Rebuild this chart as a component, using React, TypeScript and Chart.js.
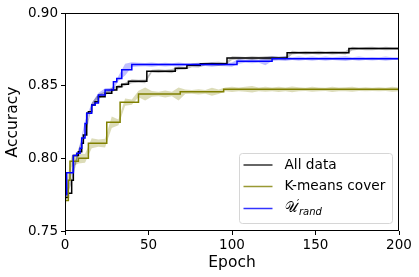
import React, { useEffect, useRef } from "react";
import { Chart, registerables } from "chart.js";

Chart.register(...registerables);

// Step curves: epoch at which a new value starts, and that value
const allEpochs = [0, 2, 4, 5, 8, 10, 11, 13, 14, 16, 18, 20, 24, 28, 31, 34, 38, 49, 66, 73, 81, 97, 133, 170, 200];
const allAcc = [0.773, 0.776, 0.785, 0.802, 0.8046, 0.8103, 0.816, 0.831, 0.832, 0.8367, 0.839, 0.8424, 0.8447, 0.847, 0.8493, 0.851, 0.853, 0.86, 0.862, 0.864, 0.865, 0.869, 0.8727, 0.8755, 0.8755];

const kmEpochs = [0, 2, 3, 8, 14, 25, 33, 44, 69, 95, 200];
const kmAcc = [0.771, 0.785, 0.798, 0.8, 0.8104, 0.8248, 0.8386, 0.8443, 0.8458, 0.8475, 0.8475];

const urEpochs = [0, 1, 5, 7, 9, 10, 12, 13, 16, 18, 20, 24, 29, 31, 34, 40, 103, 124, 200];
const urAcc = [0.775, 0.79, 0.802, 0.8035, 0.807, 0.814, 0.824, 0.831, 0.8367, 0.838, 0.8436, 0.847, 0.8527, 0.855, 0.861, 0.8645, 0.8668, 0.8686, 0.8686];

// Spread bands (half-widths in units of 0.001), sampled at these epochs
const bandEpochs = [0, 4, 8, 12, 16, 20, 24, 28, 32, 36, 40, 44, 48, 52, 56, 60, 64, 68, 72, 76, 80, 84, 88, 92, 96, 100, 104, 108, 112, 116, 120, 124, 128, 132, 136, 140, 144, 148, 152, 156, 160, 164, 168, 172, 176, 180, 184, 188, 192, 196, 200];
const allBand = [2.5, 2, 1.8, 2, 1.5, 1.8, 1.2, 1.6, 1.2, 1.0, 1.4, 1.0, 1.3, 0.9, 1.3, 0.9, 1.4, 1.0, 0.9, 1.3, 1.5, 0.9, 1.2, 1.4, 0.9, 1.3, 1.0, 0.8, 1.3, 0.9, 1.2, 1.4, 0.9, 1.2, 1.3, 0.8, 1.2, 0.9, 1.3, 0.8, 1.2, 0.9, 1.2, 1.3, 0.8, 1.1, 1.2, 0.8, 1.2, 0.9, 1.0];
const kmBand = [7, 4, 3.5, 3, 3.5, 2.5, 3, 4, 2, 2.5, 1.8, 2.2, 4.5, 2, 1.6, 2.4, 1.6, 4.5, 1.6, 1.3, 1.8, 1.3, 2.8, 1.6, 1.3, 1.8, 1.3, 1.7, 2.2, 1.3, 1.7, 1.3, 1.8, 1.3, 2.0, 1.4, 1.1, 1.7, 1.3, 1.1, 1.8, 1.3, 1.4, 1.7, 1.1, 1.4, 1.1, 1.4, 1.1, 1.7, 1.3];
const urBand = [2.5, 1.8, 1.8, 1.8, 1.4, 1.4, 1.3, 1.6, 1.6, 4, 1.6, 1.3, 1.1, 1.4, 1.0, 1.3, 0.9, 1.4, 1.0, 0.9, 1.3, 1.0, 1.4, 0.9, 1.1, 1.5, 1.7, 1.0, 1.4, 1.0, 2.8, 1.6, 1.3, 1.7, 1.0, 1.4, 1.0, 1.5, 1.0, 1.4, 1.0, 1.3, 1.7, 1.0, 1.4, 1.0, 1.2, 0.9, 1.4, 1.0, 1.0];

const xTicks = [0, 50, 100, 150, 200];
const yTicks = [0.75, 0.8, 0.85, 0.9];

const FONT = "'DejaVu Sans', sans-serif";

function stepAt(epochs: number[], vals: number[], e: number) {
  let v = vals[0];
  for (let i = 0; i < epochs.length; i++) if (epochs[i] <= e) v = vals[i];
  return v;
}
function pts(epochs: number[], vals: number[]) {
  return epochs.map((x, i) => ({ x, y: vals[i] }));
}
function band(epochs: number[], vals: number[], half: number[], sign: number) {
  return bandEpochs.map((e, i) => ({ x: e, y: stepAt(epochs, vals, e) + sign * half[i] * 0.001 }));
}

const frameAndLegend = {
  id: "frameAndLegend",
  afterDatasetsDraw(chart: any) {
    const { ctx, chartArea } = chart;
    ctx.save();
    ctx.strokeStyle = "#000";
    ctx.lineWidth = 1;
    ctx.strokeRect(chartArea.left + 0.5, chartArea.top + 0.5, chartArea.right - chartArea.left - 1, chartArea.bottom - chartArea.top - 1);
    ctx.restore();
  },
  afterDraw(chart: any) {
    const { ctx, chartArea } = chart;
    ctx.save();
    const w = 153, h = 70;
    const x = chartArea.right - 7 - w + 0.5;
    const y = chartArea.bottom - 8 - h + 0.5;
    ctx.beginPath();
    (ctx as any).roundRect(x, y, w, h, 3);
    ctx.fillStyle = "rgba(255,255,255,0.8)";
    ctx.fill();
    ctx.strokeStyle = "#d6d6d6";
    ctx.lineWidth = 1;
    ctx.stroke();
    const rows = [
      { c: "#000000", label: "All data" },
      { c: "#808000", label: "K-means cover" },
      { c: "#0000ff", label: "" },
    ];
    const ys = [y + 11.5, y + 33, y + 55];
    rows.forEach((r, i) => {
      ctx.strokeStyle = r.c;
      ctx.lineWidth = 1.5;
      ctx.globalAlpha = 0.8;
      ctx.beginPath();
      ctx.moveTo(x + 4, ys[i]);
      ctx.lineTo(x + 33, ys[i]);
      ctx.stroke();
      ctx.globalAlpha = 1;
      ctx.fillStyle = "#000";
      ctx.textBaseline = "middle";
      ctx.font = `13.7px ${FONT}`;
      if (r.label) {
        ctx.fillText(r.label, x + 45, ys[i]);
      } else {
        ctx.font = `14px ${FONT}`;
        ctx.fillText("\u{1D4B0}", x + 45, ys[i]);
        const uw = ctx.measureText("\u{1D4B0}").width;
        ctx.font = `10px ${FONT}`;
        ctx.fillText("\u2032", x + 45 + uw - 0.5, ys[i] - 4);
        ctx.font = `italic 10px ${FONT}`;
        ctx.fillText("rand", x + 45 + uw + 1.5, ys[i] + 3.5);
      }
    });
    ctx.restore();
  },
};

export default function App() {
  const ref = useRef<HTMLCanvasElement | null>(null);
  useEffect(() => {
    if (!ref.current) return;
    const bandLine = { pointRadius: 0, borderWidth: 0, tension: 0 };
    const chart = new Chart(ref.current, {
      type: "line",
      data: {
        datasets: [
          { label: "All data", data: pts(allEpochs, allAcc), borderColor: "#000000", borderWidth: 1.5, pointRadius: 0, stepped: "before", fill: false, order: 2 } as any,
          { label: "K-means cover", data: pts(kmEpochs, kmAcc), borderColor: "#808000", borderWidth: 1.5, pointRadius: 0, stepped: "before", fill: false, order: 1 } as any,
          { label: "U'rand", data: pts(urEpochs, urAcc), borderColor: "#0000ff", borderWidth: 1.5, pointRadius: 0, stepped: "before", fill: false, order: 0 } as any,
          { data: band(allEpochs, allAcc, allBand, -1), ...bandLine, fill: false, order: 10 } as any,
          { data: band(allEpochs, allAcc, allBand, 1), ...bandLine, fill: 3, backgroundColor: "rgba(0,0,0,0.25)", order: 10 } as any,
          { data: band(kmEpochs, kmAcc, kmBand, -1), ...bandLine, fill: false, order: 10 } as any,
          { data: band(kmEpochs, kmAcc, kmBand, 1), ...bandLine, fill: 5, backgroundColor: "rgba(128,128,0,0.28)", order: 10 } as any,
          { data: band(urEpochs, urAcc, urBand, -1), ...bandLine, fill: false, order: 10 } as any,
          { data: band(urEpochs, urAcc, urBand, 1), ...bandLine, fill: 7, backgroundColor: "rgba(0,0,255,0.25)", order: 10 } as any,
        ],
      },
      options: {
        animation: false,
        responsive: false,
        devicePixelRatio: 1,
        layout: { padding: { top: 13, right: 20, left: 0, bottom: 0 } },
        plugins: { legend: { display: false }, tooltip: { enabled: false } },
        scales: {
          x: {
            type: "linear",
            min: 0,
            max: 200,
            afterBuildTicks: (s: any) => { s.ticks = xTicks.map((v) => ({ value: v })); },
            afterFit: (s: any) => { s.height = 46; },
            grid: { display: true, drawOnChartArea: false, drawTicks: true, tickLength: 4, tickColor: "#000" },
            border: { display: false },
            ticks: { color: "#000", font: { family: FONT, size: 13.5 }, padding: 2, maxRotation: 0 },
            title: { display: true, text: "Epoch", color: "#000", font: { family: FONT, size: 15.5 }, padding: { top: 0, bottom: 5 } },
          },
          y: {
            type: "linear",
            min: 0.75,
            max: 0.9,
            afterBuildTicks: (s: any) => { s.ticks = yTicks.map((v) => ({ value: v })); },
            afterFit: (s: any) => { s.width = 65; },
            grid: { display: true, drawOnChartArea: false, drawTicks: true, tickLength: 4, tickColor: "#000" },
            border: { display: false },
            ticks: { color: "#000", font: { family: FONT, size: 13.5 }, padding: 3, callback: (v: any) => Number(v).toFixed(2) },
            title: { display: true, text: "Accuracy", color: "#000", font: { family: FONT, size: 15.5 }, padding: { top: 4, bottom: 0 } },
          },
        },
      },
      plugins: [frameAndLegend],
    });
    return () => chart.destroy();
  }, []);
  return (
    <div style={{ position: "absolute", left: 0, top: 0, width: 419, height: 277, background: "#fff" }}>
      <canvas ref={ref} width={419} height={277} style={{ width: 419, height: 277 }} />
    </div>
  );
}
